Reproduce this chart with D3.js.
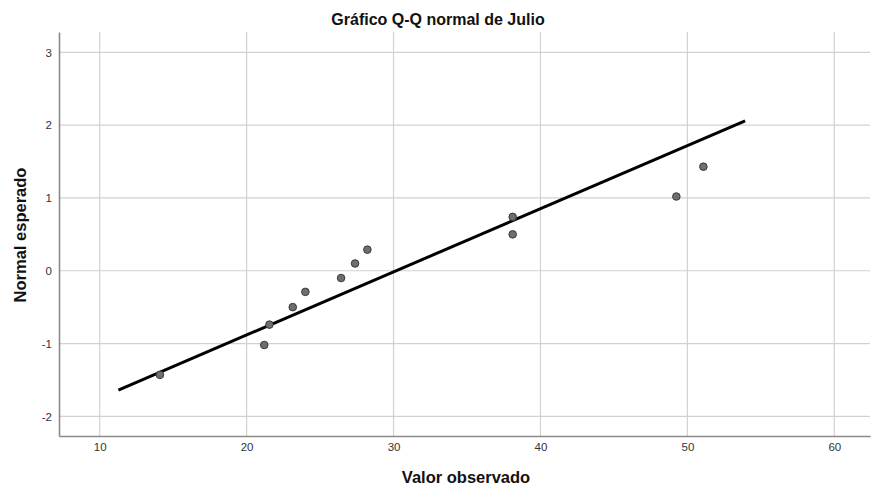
<!DOCTYPE html>
<html>
<head>
<meta charset="utf-8">
<script src="https://cdn.jsdelivr.net/npm/d3@7/dist/d3.min.js"></script>
<style>
  html, body { margin: 0; padding: 0; background: #fff; }
  svg { display: block; font-family: "Liberation Sans", Arial, sans-serif; }
</style>
</head>
<body>
<svg id="chart" width="871" height="488"></svg>
<script>
// Observed values (sorted) and their expected normal scores
const observed = [14.1, 21.2, 21.55, 23.14, 24.0, 26.43, 27.38, 28.22, 38.11, 38.11, 49.25, 51.09];
const expected = [-1.43, -1.02, -0.74, -0.50, -0.29, -0.10, 0.10, 0.29, 0.50, 0.74, 1.02, 1.43];

// Reference line endpoints
const lineX = [11.27, 53.93];
const lineY = [-1.64, 2.06];

const xTicks = [10, 20, 30, 40, 50, 60];
const yTicks = [-2, -1, 0, 1, 2, 3];

const svg = d3.select("#chart");
const plot = { left: 59, right: 870, top: 32, bottom: 436 };

const x = d3.scaleLinear().domain([7.23, 62.43]).range([plot.left, plot.right]);
const y = d3.scaleLinear().domain([-2.27, 3.28]).range([plot.bottom, plot.top]);

// Grid lines
svg.append("g")
  .selectAll("line").data(xTicks).join("line")
  .attr("x1", d => x(d)).attr("x2", d => x(d))
  .attr("y1", plot.top).attr("y2", plot.bottom)
  .attr("stroke", "#d2d2d2").attr("stroke-width", 1.2);
svg.append("g")
  .selectAll("line").data(yTicks).join("line")
  .attr("x1", plot.left).attr("x2", plot.right)
  .attr("y1", d => y(d)).attr("y2", d => y(d))
  .attr("stroke", "#d2d2d2").attr("stroke-width", 1.2);

// Axes (plain hyphen for negative labels)
const fmt = d => String(d);
const xAxis = svg.append("g")
  .attr("transform", `translate(0,${plot.bottom})`)
  .call(d3.axisBottom(x).tickValues(xTicks).tickSize(0).tickPadding(7).tickFormat(fmt));
const yAxis = svg.append("g")
  .attr("transform", `translate(${plot.left},0)`)
  .call(d3.axisLeft(y).tickValues(yTicks).tickSize(0).tickPadding(7).tickFormat(fmt));
[xAxis, yAxis].forEach(g => {
  g.select(".domain").attr("stroke", "#8a8a8a").attr("stroke-width", 1.6);
  g.selectAll("text").attr("fill", "#333").attr("font-size", 11.5)
    .attr("font-family", "'Liberation Sans', Arial, sans-serif");
});

// Reference line
svg.append("line")
  .attr("x1", x(lineX[0])).attr("y1", y(lineY[0]))
  .attr("x2", x(lineX[1])).attr("y2", y(lineY[1]))
  .attr("stroke", "#000").attr("stroke-width", 3);

// Points
svg.append("g")
  .selectAll("circle").data(observed).join("circle")
  .attr("cx", d => x(d))
  .attr("cy", (d, i) => y(expected[i]))
  .attr("r", 3.8)
  .attr("fill", "#6e6e6e")
  .attr("stroke", "#3a3a3a")
  .attr("stroke-width", 1);

// Titles
svg.append("text")
  .attr("x", 438).attr("y", 25)
  .attr("text-anchor", "middle")
  .attr("font-weight", "bold").attr("font-size", 16)
  .attr("fill", "#111")
  .text("Gráfico Q-Q normal de Julio");

svg.append("text")
  .attr("x", 466).attr("y", 483)
  .attr("text-anchor", "middle")
  .attr("font-weight", "bold").attr("font-size", 16.5)
  .attr("fill", "#111")
  .text("Valor observado");

svg.append("text")
  .attr("transform", "translate(26,235) rotate(-90)")
  .attr("text-anchor", "middle")
  .attr("font-weight", "bold").attr("font-size", 16.5)
  .attr("fill", "#111")
  .text("Normal esperado");
</script>
</body>
</html>
